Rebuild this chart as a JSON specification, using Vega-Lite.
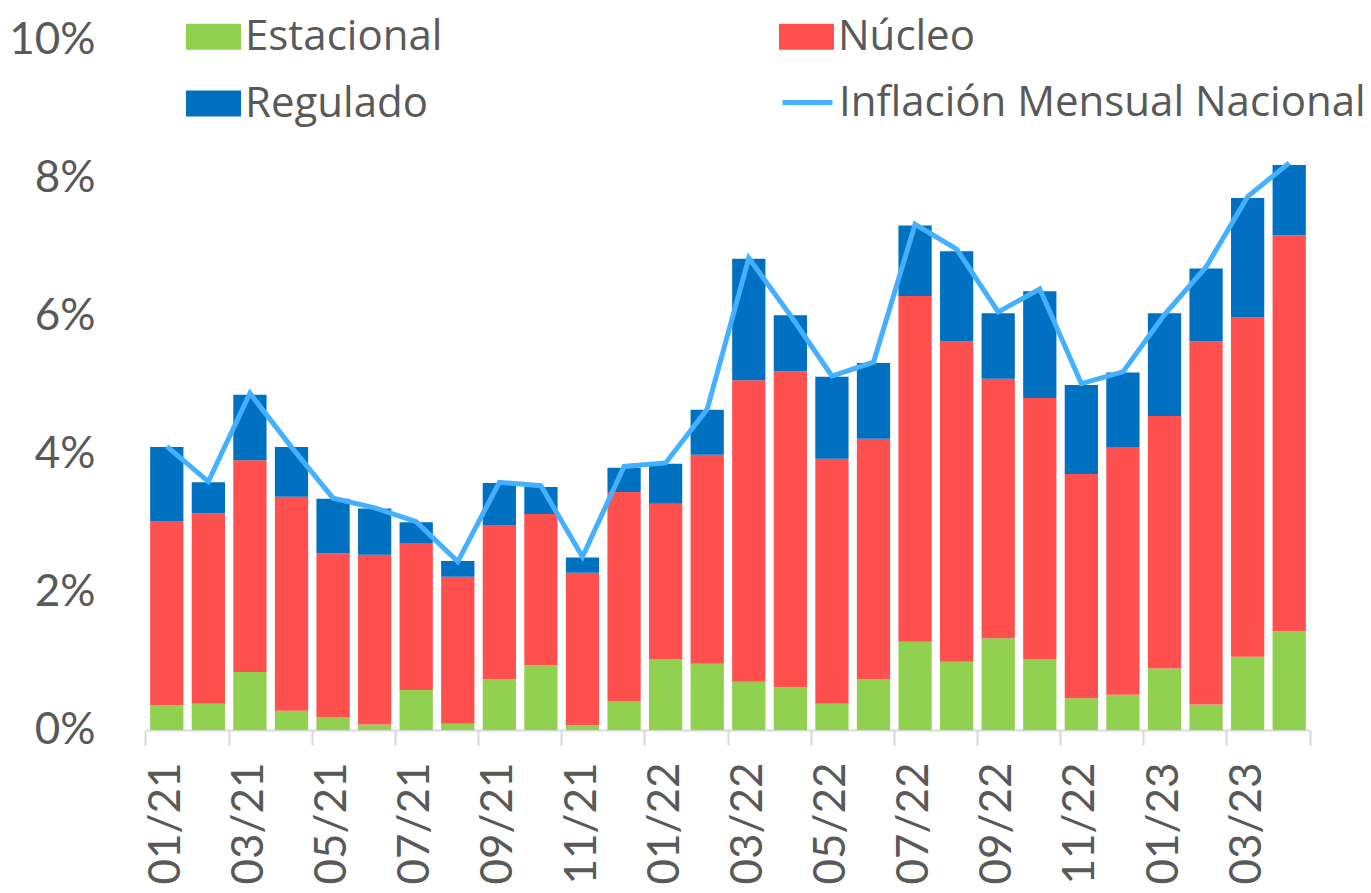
{
  "$schema": "https://vega.github.io/schema/vega-lite/v6.json",
  "width": 1164,
  "height": 690,
  "autosize": {"type": "none"},
  "padding": {"left": 146, "top": 40, "right": 61, "bottom": 163},
  "background": "white",
  "config": {"view": {"stroke": null}, "font": "Lato"},
  "datasets": {
    "componentes": [
      {"mes": "01/21", "componente": "Estacional", "valor": 0.36}, {"mes": "01/21", "componente": "Núcleo", "valor": 2.67}, {"mes": "01/21", "componente": "Regulado", "valor": 1.07},
      {"mes": "02/21", "componente": "Estacional", "valor": 0.38}, {"mes": "02/21", "componente": "Núcleo", "valor": 2.76}, {"mes": "02/21", "componente": "Regulado", "valor": 0.45},
      {"mes": "03/21", "componente": "Estacional", "valor": 0.84}, {"mes": "03/21", "componente": "Núcleo", "valor": 3.07}, {"mes": "03/21", "componente": "Regulado", "valor": 0.95},
      {"mes": "04/21", "componente": "Estacional", "valor": 0.28}, {"mes": "04/21", "componente": "Núcleo", "valor": 3.10}, {"mes": "04/21", "componente": "Regulado", "valor": 0.72},
      {"mes": "05/21", "componente": "Estacional", "valor": 0.19}, {"mes": "05/21", "componente": "Núcleo", "valor": 2.37}, {"mes": "05/21", "componente": "Regulado", "valor": 0.79},
      {"mes": "06/21", "componente": "Estacional", "valor": 0.08}, {"mes": "06/21", "componente": "Núcleo", "valor": 2.46}, {"mes": "06/21", "componente": "Regulado", "valor": 0.67},
      {"mes": "07/21", "componente": "Estacional", "valor": 0.58}, {"mes": "07/21", "componente": "Núcleo", "valor": 2.13}, {"mes": "07/21", "componente": "Regulado", "valor": 0.30},
      {"mes": "08/21", "componente": "Estacional", "valor": 0.09}, {"mes": "08/21", "componente": "Núcleo", "valor": 2.13}, {"mes": "08/21", "componente": "Regulado", "valor": 0.23},
      {"mes": "09/21", "componente": "Estacional", "valor": 0.74}, {"mes": "09/21", "componente": "Núcleo", "valor": 2.23}, {"mes": "09/21", "componente": "Regulado", "valor": 0.61},
      {"mes": "10/21", "componente": "Estacional", "valor": 0.94}, {"mes": "10/21", "componente": "Núcleo", "valor": 2.19}, {"mes": "10/21", "componente": "Regulado", "valor": 0.39},
      {"mes": "11/21", "componente": "Estacional", "valor": 0.07}, {"mes": "11/21", "componente": "Núcleo", "valor": 2.21}, {"mes": "11/21", "componente": "Regulado", "valor": 0.22},
      {"mes": "12/21", "componente": "Estacional", "valor": 0.42}, {"mes": "12/21", "componente": "Núcleo", "valor": 3.03}, {"mes": "12/21", "componente": "Regulado", "valor": 0.35},
      {"mes": "01/22", "componente": "Estacional", "valor": 1.02}, {"mes": "01/22", "componente": "Núcleo", "valor": 2.26}, {"mes": "01/22", "componente": "Regulado", "valor": 0.58},
      {"mes": "02/22", "componente": "Estacional", "valor": 0.96}, {"mes": "02/22", "componente": "Núcleo", "valor": 3.03}, {"mes": "02/22", "componente": "Regulado", "valor": 0.65},
      {"mes": "03/22", "componente": "Estacional", "valor": 0.70}, {"mes": "03/22", "componente": "Núcleo", "valor": 4.37}, {"mes": "03/22", "componente": "Regulado", "valor": 1.76},
      {"mes": "04/22", "componente": "Estacional", "valor": 0.62}, {"mes": "04/22", "componente": "Núcleo", "valor": 4.58}, {"mes": "04/22", "componente": "Regulado", "valor": 0.81},
      {"mes": "05/22", "componente": "Estacional", "valor": 0.38}, {"mes": "05/22", "componente": "Núcleo", "valor": 3.55}, {"mes": "05/22", "componente": "Regulado", "valor": 1.19},
      {"mes": "06/22", "componente": "Estacional", "valor": 0.74}, {"mes": "06/22", "componente": "Núcleo", "valor": 3.48}, {"mes": "06/22", "componente": "Regulado", "valor": 1.10},
      {"mes": "07/22", "componente": "Estacional", "valor": 1.28}, {"mes": "07/22", "componente": "Núcleo", "valor": 5.01}, {"mes": "07/22", "componente": "Regulado", "valor": 1.02},
      {"mes": "08/22", "componente": "Estacional", "valor": 0.99}, {"mes": "08/22", "componente": "Núcleo", "valor": 4.64}, {"mes": "08/22", "componente": "Regulado", "valor": 1.31},
      {"mes": "09/22", "componente": "Estacional", "valor": 1.33}, {"mes": "09/22", "componente": "Núcleo", "valor": 3.76}, {"mes": "09/22", "componente": "Regulado", "valor": 0.95},
      {"mes": "10/22", "componente": "Estacional", "valor": 1.02}, {"mes": "10/22", "componente": "Núcleo", "valor": 3.79}, {"mes": "10/22", "componente": "Regulado", "valor": 1.55},
      {"mes": "11/22", "componente": "Estacional", "valor": 0.46}, {"mes": "11/22", "componente": "Núcleo", "valor": 3.25}, {"mes": "11/22", "componente": "Regulado", "valor": 1.29},
      {"mes": "12/22", "componente": "Estacional", "valor": 0.51}, {"mes": "12/22", "componente": "Núcleo", "valor": 3.59}, {"mes": "12/22", "componente": "Regulado", "valor": 1.08},
      {"mes": "01/23", "componente": "Estacional", "valor": 0.89}, {"mes": "01/23", "componente": "Núcleo", "valor": 3.66}, {"mes": "01/23", "componente": "Regulado", "valor": 1.49},
      {"mes": "02/23", "componente": "Estacional", "valor": 0.37}, {"mes": "02/23", "componente": "Núcleo", "valor": 5.26}, {"mes": "02/23", "componente": "Regulado", "valor": 1.06},
      {"mes": "03/23", "componente": "Estacional", "valor": 1.06}, {"mes": "03/23", "componente": "Núcleo", "valor": 4.92}, {"mes": "03/23", "componente": "Regulado", "valor": 1.73},
      {"mes": "04/23", "componente": "Estacional", "valor": 1.43}, {"mes": "04/23", "componente": "Núcleo", "valor": 5.74}, {"mes": "04/23", "componente": "Regulado", "valor": 1.02}
    ],
    "inflacion": [
      {"mes": "01/21", "inflacion": 4.11}, {"mes": "02/21", "inflacion": 3.60}, {"mes": "03/21", "inflacion": 4.88}, {"mes": "04/21", "inflacion": 4.10},
      {"mes": "05/21", "inflacion": 3.36}, {"mes": "06/21", "inflacion": 3.22}, {"mes": "07/21", "inflacion": 3.02}, {"mes": "08/21", "inflacion": 2.44},
      {"mes": "09/21", "inflacion": 3.59}, {"mes": "10/21", "inflacion": 3.54}, {"mes": "11/21", "inflacion": 2.51}, {"mes": "12/21", "inflacion": 3.82},
      {"mes": "01/22", "inflacion": 3.87}, {"mes": "02/22", "inflacion": 4.65}, {"mes": "03/22", "inflacion": 6.84}, {"mes": "04/22", "inflacion": 6.01},
      {"mes": "05/22", "inflacion": 5.13}, {"mes": "06/22", "inflacion": 5.33}, {"mes": "07/22", "inflacion": 7.33}, {"mes": "08/22", "inflacion": 6.97},
      {"mes": "09/22", "inflacion": 6.06}, {"mes": "10/22", "inflacion": 6.39}, {"mes": "11/22", "inflacion": 5.02}, {"mes": "12/22", "inflacion": 5.19},
      {"mes": "01/23", "inflacion": 6.02}, {"mes": "02/23", "inflacion": 6.71}, {"mes": "03/23", "inflacion": 7.73}, {"mes": "04/23", "inflacion": 8.22}
    ]
  },
  "layer": [
    {
      "data": {"name": "componentes"},
      "mark": {"type": "bar"},
      "encoding": {
        "x": {
          "field": "mes", "type": "nominal", "sort": null,
          "scale": {"paddingInner": 0.2, "paddingOuter": 0.1},
          "axis": {
            "orient": "bottom", "title": null, "grid": false,
            "values": ["01/21", "03/21", "05/21", "07/21", "09/21", "11/21", "01/22", "03/22", "05/22", "07/22", "09/22", "11/22", "01/23", "03/23"],
            "bandPosition": -0.125,
            "labelAngle": 270, "labelFontSize": 44, "labelColor": "#595959", "labelFont": "Lato",
            "labelPadding": 17, "tickSize": 15, "tickColor": "#D9D9D9", "tickWidth": 2,
            "domainColor": "#D9D9D9", "domainWidth": 2
          }
        },
        "y": {
          "field": "valor", "type": "quantitative", "title": null,
          "scale": {"domain": [0, 10], "nice": false},
          "axis": {
            "values": [0, 2, 4, 6, 8, 10], "labelExpr": "datum.value + '%'",
            "domain": false, "ticks": false, "grid": false,
            "labelFontSize": 44, "labelColor": "#595959", "labelFont": "Lato", "labelPadding": 51
          }
        },
        "order": {"field": "componente", "sort": "ascending"},
        "color": {
          "field": "componente", "type": "nominal",
          "scale": {"domain": ["Estacional", "Núcleo", "Regulado"], "range": ["#92D050", "#FF5050", "#0070C0"]},
          "legend": {
            "orient": "none", "legendX": 40, "legendY": -31, "columns": 2, "direction": "horizontal", "title": null,
            "labelFontSize": 42, "labelColor": "#595959", "labelFont": "Open Sans", "labelLimit": 700,
            "symbolType": "M-1,-0.47H1V0.47H-1Z", "symbolSize": 3025, "symbolStrokeWidth": 0, "symbolOpacity": 1,
            "columnPadding": 336, "rowPadding": 18, "labelOffset": 4, "padding": 0
          }
        }
      }
    },
    {
      "data": {"name": "inflacion"},
      "mark": {"type": "line", "strokeWidth": 5},
      "encoding": {
        "x": {
          "field": "mes", "type": "nominal", "sort": null,
          "axis": {
            "orient": "bottom", "title": null, "grid": false, "values": ["04/23"],
            "bandPosition": 1.125, "labels": false, "domain": false,
            "tickSize": 15, "tickColor": "#D9D9D9", "tickWidth": 2
          }
        },
        "y": {"field": "inflacion", "type": "quantitative", "title": null},
        "stroke": {
          "datum": "Inflación Mensual Nacional", "type": "nominal",
          "scale": {"range": ["#45B0FF"]},
          "legend": {
            "orient": "none", "legendX": 634, "legendY": 35, "title": null,
            "labelFontSize": 42, "labelColor": "#595959", "labelFont": "Open Sans", "labelLimit": 700,
            "symbolType": "stroke", "symbolSize": 2500, "symbolStrokeWidth": 5,
            "labelOffset": 4, "padding": 0
          }
        }
      }
    }
  ],
  "resolve": {"axis": {"x": "independent"}}
}
